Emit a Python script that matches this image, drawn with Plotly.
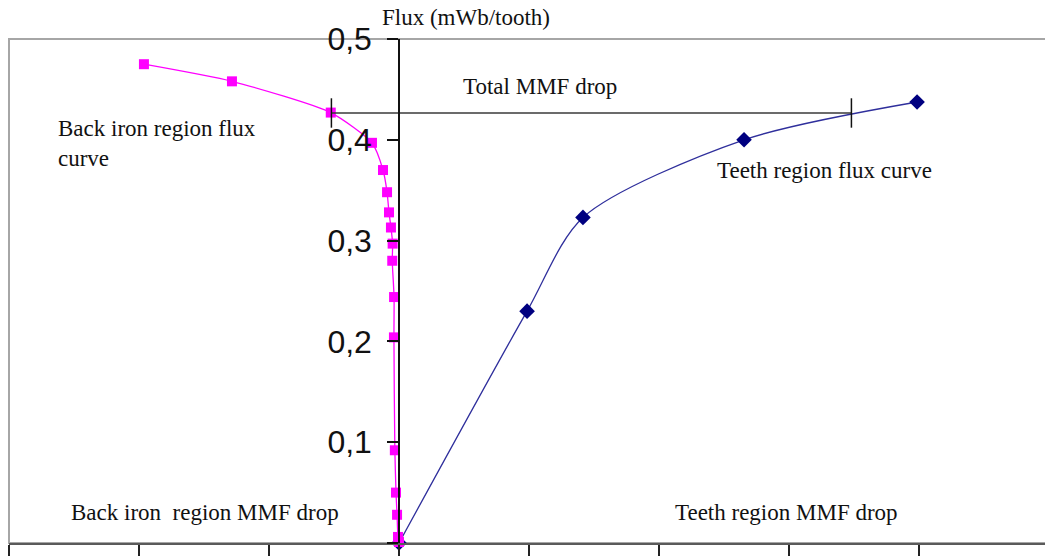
import plotly.graph_objects as go

# Data (x in MMF units, 100 per tick; y in mWb/tooth)
back_x = [-196.2, -128.5, -52.5, -20.8, -12.3, -9.2, -7.7, -6.2, -4.9, -5.2, -3.8, -3.9, -3.2, -2.3, -1.5, -0.8, 0]
back_y = [0.475, 0.458, 0.427, 0.397, 0.370, 0.348, 0.328, 0.313, 0.297, 0.280, 0.244, 0.204, 0.092, 0.050, 0.028, 0.006, 0.001]

teeth_x = [0, 98.5, 141.5, 265.4, 398.5]
teeth_y = [0, 0.230, 0.323, 0.400, 0.4375]

mmf_x = [-52, 348]
mmf_y = [0.4266, 0.4266]

y_ticks = [0, 0.1, 0.2, 0.3, 0.4, 0.5]
y_labels = ["0", "0,1", "0,2", "0,3", "0,4", "0,5"]

x_range = [-300, 496.9]
y_range = [0, 0.5]

serif = "Liberation Serif, Times New Roman, serif"

fig = go.Figure()

fig.add_trace(go.Scatter(
    x=teeth_x, y=teeth_y, mode="lines+markers",
    line=dict(color="#2f2f9c", width=1.3, shape="spline", smoothing=0.8),
    marker=dict(symbol="diamond", size=12, color="#000080"),
    cliponaxis=False, showlegend=False))

fig.add_trace(go.Scatter(
    x=back_x, y=back_y, mode="lines+markers",
    line=dict(color="#ff00ff", width=1.3, shape="spline", smoothing=0.6),
    marker=dict(symbol="square", size=10, color="#ff00ff"),
    cliponaxis=False, showlegend=False))

fig.add_trace(go.Scatter(
    x=mmf_x, y=mmf_y, mode="lines+markers",
    line=dict(color="#3a3a3a", width=1.5),
    marker=dict(symbol="line-ns", size=21, line=dict(color="#111111", width=1.5)),
    cliponaxis=False, showlegend=False))

annots = [
    ("Total MMF drop", 48, 0.4524),
    ("Back iron region flux<br>curve", -264, 0.3968),
    ("Teeth region flux curve", 243, 0.370),
    ("Back iron\u00a0 region MMF drop", -254, 0.0298),
    ("Teeth region MMF drop", 211, 0.0298),
]
for text, ax, ay in annots:
    fig.add_annotation(x=ax, y=ay, xref="x", yref="y", text=text, showarrow=False,
                       xanchor="left", yanchor="middle", align="left",
                       font=dict(family=serif, size=23, color="#111111"))

# axis title above the plot area
fig.add_annotation(x=-14.5, y=1.0417, xref="x", yref="paper", text="Flux (mWb/tooth)",
                   showarrow=False, xanchor="left", yanchor="middle",
                   font=dict(family=serif, size=23, color="#111111"))

pos = (0 - x_range[0]) / (x_range[1] - x_range[0])

fig.update_layout(
    width=1045, height=556,
    margin=dict(l=9, r=0, t=39, b=13),
    paper_bgcolor="white", plot_bgcolor="white",
    separators=",.",
    xaxis=dict(range=x_range, showgrid=False, zeroline=False,
               showline=True, linecolor="#5a5a5a", linewidth=2,
               ticks="outside", ticklen=11, tickwidth=1.5, tickcolor="#222222",
               tick0=0, dtick=100, showticklabels=False),
    yaxis=dict(range=y_range, showgrid=False, zeroline=False,
               anchor="free", position=pos,
               showline=True, linecolor="#111111", linewidth=1.5,
               ticks="outside", ticklen=11, tickwidth=1.5, tickcolor="#111111",
               tickvals=y_ticks, ticktext=y_labels, ticklabelstandoff=9,
               tickfont=dict(family="Liberation Sans, Arial, sans-serif", size=32, color="#111111")),
    shapes=[dict(type="rect", xref="paper", yref="paper", x0=0, x1=1.02, y0=0, y1=1,
                 line=dict(color="#a6a6a6", width=2), layer="below")],
)

fig.write_html("out.html")
